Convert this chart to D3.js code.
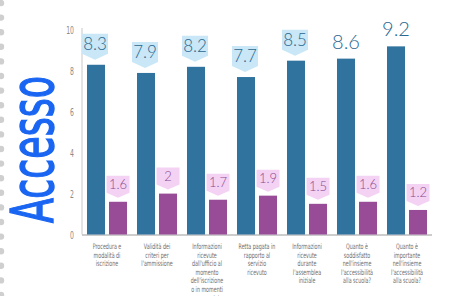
<!DOCTYPE html>
<html><head><meta charset="utf-8">
<script src="https://cdn.jsdelivr.net/npm/d3@7"></script>
<style>html,body{margin:0;padding:0;background:#fff;overflow:hidden}</style>
</head><body><svg id="c" width="450" height="296"></svg>
<script>
const title = "Accesso";
const categories = ["c1","c2","c3","c4","c5","c6","c7"];
const categoryLines = [
  ["Procedura e","modalità di","iscrizione"],
  ["Validità dei","criteri per","l'ammissione"],
  ["Informazioni","ricevute","dall'ufficio al","momento","dell'iscrizione","o in momenti","successivi"],
  ["Retta pagata in","rapporto al","servizio","ricevuto"],
  ["Informazioni","ricevute","durante","l'assemblea","iniziale"],
  ["Quanto è","soddisfatto","nell'insieme","l'accessibilità","alla scuola?"],
  ["Quanto è","importante","nell'insieme","l'accessibilità","alla scuola?"]
];
const seriesA = [8.3, 7.9, 8.2, 7.7, 8.5, 8.6, 9.2];
const seriesB = [1.6, 2, 1.7, 1.9, 1.5, 1.6, 1.2];
const yTicks = [0, 2, 4, 6, 8, 10];

const svg = d3.select("#c");
const W = 450, H = 296;

// notebook dots
for (let y = 3; y < H + 5; y += 14.6) {
  svg.append("circle").attr("cx", 1).attr("cy", y).attr("r", 3.2).attr("fill", "#cfcfcf");
}

// title: measured and fitted to the span it covers in the picture
const tTitle = svg.append("text")
  .attr("font-family", "DejaVu Sans Condensed")
  .attr("font-size", 55)
  .attr("fill", "#1a66f2")
  .attr("stroke", "#1a66f2")
  .attr("stroke-width", 1.3)
  .text(title);
const tw = tTitle.node().getComputedTextLength();
const sxT = 147 / tw;
tTitle.attr("transform", `translate(53,223) rotate(-90) scale(${sxT},1.08)`);

const x = d3.scaleBand().domain(categories).range([82, 432]).padding(0);
const xs = d3.scaleBand().domain(["a","b"]).range([0, x.bandwidth()]).paddingInner(0.182).paddingOuter(0.227);
const y = d3.scaleLinear().domain([0, 10]).range([234.5, 30]);

function condText(g, tx, ty, str, size, fill, sx, anchor, family, weight) {
  g.append("text")
    .attr("transform", `translate(${tx},${ty}) scale(${sx},1)`)
    .attr("text-anchor", anchor)
    .attr("font-family", family || "DejaVu Sans Condensed")
    .attr("font-weight", weight || "normal")
    .attr("font-size", size)
    .attr("fill", fill)
    .text(str);
}

// y tick labels
yTicks.forEach(t => condText(svg, 74, y(t) + 4, String(t), 11, "#8a8a8a", 0.62, "end"));

// axis lines
svg.append("line").attr("x1", 82).attr("x2", 82).attr("y1", 28).attr("y2", y(0)).attr("stroke", "#c8c8c8").attr("stroke-width", 1);
svg.append("line").attr("x1", 82).attr("x2", 432).attr("y1", y(0) + 0.5).attr("y2", y(0) + 0.5).attr("stroke", "#9a9a9a").attr("stroke-width", 1);

const blue = "#30739f", purple = "#984c97";
const blueLight = "#c9e7f6", purpleLight = "#f4d2f4";
const blueText = "#2b6890", purpleText = "#8a4a8a";

// bars
svg.selectAll("rect.a").data(seriesA).join("rect")
  .attr("x", (d, i) => x(categories[i]) + xs("a")).attr("width", xs.bandwidth())
  .attr("y", d => y(d)).attr("height", d => y(0) - y(d)).attr("fill", blue);
svg.selectAll("rect.b").data(seriesB).join("rect")
  .attr("x", (d, i) => x(categories[i]) + xs("b")).attr("width", xs.bandwidth())
  .attr("y", d => y(d)).attr("height", d => y(0) - y(d)).attr("fill", purple);

function callout(cx, barTop, w, h, depth, gap, fill) {
  const tip = barTop - gap, rb = tip - depth, top = rb - h;
  svg.append("path")
    .attr("d", `M${cx - w/2},${top}L${cx + w/2},${top}L${cx + w/2},${rb}L${cx},${tip}L${cx - w/2},${rb}Z`)
    .attr("fill", fill);
  return (top + rb) / 2;
}

const plainFrom = 5;
seriesA.forEach((v, i) => {
  const cx = x(categories[i]) + xs("a") + xs.bandwidth() / 2 - 1;
  const bt = y(v);
  if (i < plainFrom) {
    const mid = callout(cx, bt, 26, 20, 6, 5, blueLight);
    svg.append("text").attr("x", cx).attr("y", mid + 6).attr("text-anchor", "middle")
      .attr("font-family", "Lato").attr("font-weight", 300).attr("font-size", 17)
      .attr("fill", blueText).text(String(v));
  } else {
    svg.append("text").attr("x", cx + 1).attr("y", bt - 10).attr("text-anchor", "middle")
      .attr("font-family", "Lato").attr("font-weight", 300).attr("font-size", 20)
      .attr("fill", blueText).text(String(v));
  }
});
seriesB.forEach((v, i) => {
  const cx = x(categories[i]) + xs("b") + xs.bandwidth() / 2;
  const bt = y(v);
  const mid = callout(cx, bt, 23, 17, 5, 4, purpleLight);
  svg.append("text").attr("x", cx).attr("y", mid + 4.5).attr("text-anchor", "middle")
    .attr("font-family", "Lato").attr("font-weight", 300).attr("font-size", 13)
    .attr("fill", purpleText).text(String(v));
});

// category labels
categoryLines.forEach((lines, i) => {
  const cx = x(categories[i]) + x.bandwidth() / 2;
  lines.forEach((ln, j) => condText(svg, cx, 249 + j * 8.6, ln, 7.6, "#6e6e6e", 0.7, "middle", "DejaVu Sans Condensed", "normal"));
});
</script></body></html>
